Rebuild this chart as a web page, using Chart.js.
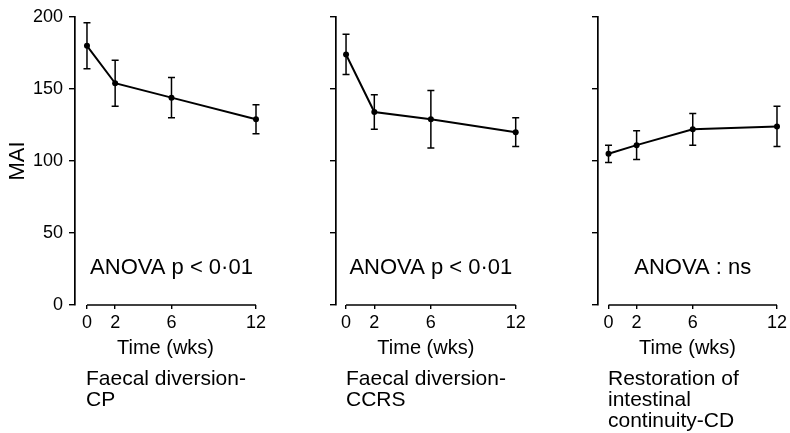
<!DOCTYPE html>
<html>
<head>
<meta charset="utf-8">
<title>MAI over time</title>
<script src="https://cdn.jsdelivr.net/npm/chart.js@4.4.1/dist/chart.umd.min.js"></script>
<style>
  body { margin: 0; background: #fff; }
  #wrap { position: relative; width: 790px; height: 433px; overflow: hidden; }
  canvas { position: absolute; top: 0; }
  .sub { position: absolute; top: 367px; font: 21px/21px "Liberation Sans", Arial, sans-serif; color: #000; white-space: nowrap; }
</style>
</head>
<body>
<div id="wrap">
  <canvas id="cp" width="270" height="433" style="left:0px"></canvas>
  <canvas id="ccrs" width="260" height="433" style="left:270px"></canvas>
  <canvas id="cd" width="260" height="433" style="left:530px"></canvas>
</div>
<script>
// weeks after surgery
const weeks = [0, 2, 6, 12];
const yTicks = [0, 50, 100, 150, 200];

// MAI mean and error bar
const cpMean = [180, 154, 144, 129];
const cpErr = [16, 16, 14, 10];
const ccrsMean = [174, 134, 129, 120];
const ccrsErr = [14, 12, 20, 10];
const cdMean = [105, 111, 122, 124];
const cdErr = [6, 10, 11, 14];

const notes = ['ANOVA p < 0\u00b701', 'ANOVA p < 0\u00b701', 'ANOVA : ns'];
const groupNames = [
    ['Faecal diversion-', 'CP'],
    ['Faecal diversion-', 'CCRS'],
    ['Restoration of', 'intestinal', 'continuity-CD']
];

const FONT = '"Liberation Sans", Arial, Helvetica, sans-serif';
Chart.defaults.font.family = FONT;
Chart.defaults.color = '#000';

function makePanel(id, mean, err, note, lay) {
    // error bars, the short x axis line and the ANOVA note
    const extras = {
        id: 'extras_' + id,
        afterDatasetsDraw(chart) {
            const x = chart.scales.x, y = chart.scales.y, ctx = chart.ctx;
            ctx.save();
            ctx.strokeStyle = '#000';
            ctx.lineWidth = 1.5;
            weeks.forEach((w, i) => {
                const px = x.getPixelForValue(w);
                const top = y.getPixelForValue(mean[i] + err[i]);
                const bot = y.getPixelForValue(mean[i] - err[i]);
                ctx.beginPath();
                ctx.moveTo(px, top); ctx.lineTo(px, bot);
                ctx.moveTo(px - 3.5, top); ctx.lineTo(px + 3.5, top);
                ctx.moveTo(px - 3.5, bot); ctx.lineTo(px + 3.5, bot);
                ctx.stroke();
            });
            const y0 = chart.chartArea.bottom;
            ctx.lineWidth = 1.7;
            ctx.beginPath();
            ctx.moveTo(x.getPixelForValue(weeks[0]), y0);
            ctx.lineTo(x.getPixelForValue(weeks[weeks.length - 1]), y0);
            ctx.stroke();

            ctx.font = '22px ' + FONT;
            ctx.fillStyle = '#000';
            ctx.textAlign = 'center';
            ctx.textBaseline = 'middle';
            ctx.fillText(note, x.getPixelForValue(6), y.getPixelForValue(26));
            ctx.restore();
        }
    };

    return new Chart(document.getElementById(id), {
        type: 'line',
        data: {
            datasets: [{
                data: weeks.map((w, i) => ({ x: w, y: mean[i] })),
                borderColor: '#000', borderWidth: 2,
                pointRadius: 3, pointBackgroundColor: '#000', pointBorderWidth: 0,
                tension: 0, clip: false
            }]
        },
        options: {
            responsive: false, animation: false, devicePixelRatio: 1,
            layout: { padding: { top: 17, right: lay.padRight, bottom: 73, left: 0 } },
            plugins: { legend: { display: false }, tooltip: { enabled: false } },
            scales: {
                x: {
                    type: 'linear', min: lay.xMin, max: 12,
                    afterBuildTicks: s => { s.ticks = weeks.map(v => ({ value: v })); },
                    afterFit: s => { s.height = 55; },
                    border: { display: false },
                    grid: { drawOnChartArea: false, tickLength: 4, color: '#000', lineWidth: 1.4 },
                    ticks: { font: { size: 18 }, color: '#000', padding: 3, maxRotation: 0, autoSkip: false },
                    title: { display: true, text: 'Time (wks)', font: { size: 20 }, color: '#000', padding: { top: 0, bottom: 0 } }
                },
                y: {
                    min: 0, max: 200,
                    afterBuildTicks: s => { s.ticks = yTicks.map(v => ({ value: v })); },
                    afterFit: s => { s.width = lay.yWidth; },
                    border: { display: true, color: '#000', width: 1.7 },
                    grid: { drawOnChartArea: false, tickLength: 6, color: '#000', lineWidth: 1.4 },
                    ticks: { display: lay.showY, font: { size: 18 }, color: '#000', padding: 6 },
                    title: { display: lay.showY, text: 'MAI', font: { size: 22 }, color: '#000', padding: { top: 5, bottom: 0 } }
                }
            }
        },
        plugins: [extras]
    });
}

makePanel('cp', cpMean, cpErr, notes[0], { yWidth: 75, padRight: 14, xMin: -0.85, showY: true });
makePanel('ccrs', ccrsMean, ccrsErr, notes[1], { yWidth: 66, padRight: 14.3, xMin: -0.71, showY: false });
makePanel('cd', cdMean, cdErr, notes[2], { yWidth: 68, padRight: 10.3, xMin: -0.75, showY: false });

// group captions under each panel
const captionLeft = [86, 346, 608];
groupNames.forEach((lines, i) => {
    const div = document.createElement('div');
    div.className = 'sub';
    div.style.left = captionLeft[i] + 'px';
    div.innerHTML = lines.join('<br>');
    document.getElementById('wrap').appendChild(div);
});
</script>
</body>
</html>
